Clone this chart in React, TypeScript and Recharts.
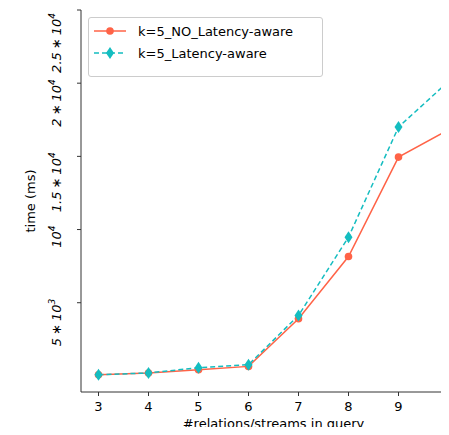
import React from 'react';
import { LineChart, Line, XAxis, YAxis } from 'recharts';

// query size (#relations/streams) and measured time in ms
const relations = [3, 4, 5, 6, 7, 8, 9, 10];
const noLatencyAware = [80, 200, 420, 650, 3900, 8160, 14950, 16820];
const latencyAware = [80, 200, 560, 765, 4130, 9480, 17000, 20120];

const xTicks = [3, 4, 5, 6, 7, 8, 9, 10];
const yTicks = [5000, 10000, 15000, 20000, 25000];
const yTickMantissa = ['5', '', '1.5', '2', '2.5'];
const yTickExponent = ['3', '4', '4', '4', '4'];

const seriesNames = ['k=5_NO_Latency-aware', 'k=5_Latency-aware'];

const RED = '#ff6347';
const TEAL = '#14bdc0';
const FONT = 'DejaVu Sans';

const data = relations.map((r, i) => ({
  r,
  noLat: noLatencyAware[i],
  lat: latencyAware[i],
}));

const Diamond = ({ cx, cy }: any) => {
  if (cx == null || cy == null) return null;
  return (
    <path
      d={`M${cx},${cy - 6} L${cx + 4},${cy} L${cx},${cy + 6} L${cx - 4},${cy} Z`}
      fill={TEAL}
    />
  );
};

const Dot = ({ cx, cy }: any) => {
  if (cx == null || cy == null) return null;
  return <circle cx={cx} cy={cy} r={3.8} fill={RED} />;
};

// rotated mathtext-like labels: 2.5*10^4
const YTick = ({ x, y, payload }: any) => {
  const i = yTicks.indexOf(payload.value);
  if (i < 0) return null;
  const m = yTickMantissa[i];
  return (
    <text
      transform={`translate(${x - 14}, ${y - 4}) rotate(-90)`}
      textAnchor="end"
      fontFamily={FONT}
      fontStyle="italic"
      fontSize={13}
      fill="#000"
    >
      {m && <tspan>{m}</tspan>}
      {m && <tspan dx={3}>∗</tspan>}
      <tspan dx={m ? 3 : 0}>10</tspan>
      <tspan dy={-6} fontSize={9}>{yTickExponent[i]}</tspan>
    </text>
  );
};

const Legend = () => (
  <div
    style={{
      position: 'absolute',
      left: 80,
      top: 9,
      width: 235,
      height: 60,
      border: '1px solid #cccccc',
      borderRadius: 3,
      background: 'rgba(255,255,255,0.8)',
      boxSizing: 'border-box',
    }}
  >
    <svg width={233} height={58}>
      <line x1={5} x2={37} y1={13} y2={13} stroke={RED} strokeWidth={1.5} />
      <Dot cx={21} cy={13} />
      <text x={49} y={18} fontFamily={FONT} fontSize={13} fill="#000">
        {seriesNames[0]}
      </text>
      <line x1={5} x2={37} y1={35} y2={35} stroke={TEAL} strokeWidth={1.5} strokeDasharray="5 3" />
      <Diamond cx={21} cy={35} />
      <text x={49} y={40} fontFamily={FONT} fontSize={13} fill="#000">
        {seriesNames[1]}
      </text>
    </svg>
  </div>
);

export default function App() {
  return (
    <div
      style={{
        position: 'relative',
        width: 441,
        height: 427,
        overflow: 'hidden',
        marginBottom: -8,
      }}
    >
      <LineChart
        width={471}
        height={427}
        data={data}
        margin={{ top: 2, right: 13, left: 0, bottom: 0 }}
      >
        <XAxis
          dataKey="r"
          type="number"
          domain={[2.65, 10.35]}
          ticks={xTicks}
          height={43}
          stroke="#333"
          tickSize={4}
          tickMargin={6}
          tick={{ fontSize: 13, fill: '#000', fontFamily: FONT }}
          label={(props: any) => {
            const vb = props.viewBox;
            return (
              <text
                x={vb.x + vb.width / 2}
                y={420}
                textAnchor="middle"
                fontFamily={FONT}
                fontSize={13}
                fill="#000"
              >
                #relations/streams in query
              </text>
            );
          }}
        />
        <XAxis
          xAxisId="top"
          dataKey="r"
          type="number"
          orientation="top"
          domain={[2.65, 10.35]}
          height={0}
          tick={false}
          tickLine={false}
          stroke="#333"
        />
        <YAxis
          type="number"
          domain={[-1100, 25000]}
          ticks={yTicks}
          width={73}
          stroke="#333"
          tickSize={4}
          tickMargin={2}
          tick={<YTick />}
          label={(props: any) => {
            const vb = props.viewBox;
            const cy = vb.y + vb.height / 2;
            return (
              <text
                transform={`translate(27, ${cy}) rotate(-90)`}
                textAnchor="middle"
                fontFamily={FONT}
                fontSize={13}
                fill="#000"
              >
                time (ms)
              </text>
            );
          }}
        />
        <Line
          dataKey="noLat"
          stroke={RED}
          strokeWidth={1.5}
          dot={<Dot />}
          activeDot={false}
          isAnimationActive={false}
        />
        <Line
          dataKey="lat"
          stroke={TEAL}
          strokeWidth={1.5}
          strokeDasharray="5 3"
          dot={<Diamond />}
          activeDot={false}
          isAnimationActive={false}
        />
      </LineChart>
      <Legend />
    </div>
  );
}
